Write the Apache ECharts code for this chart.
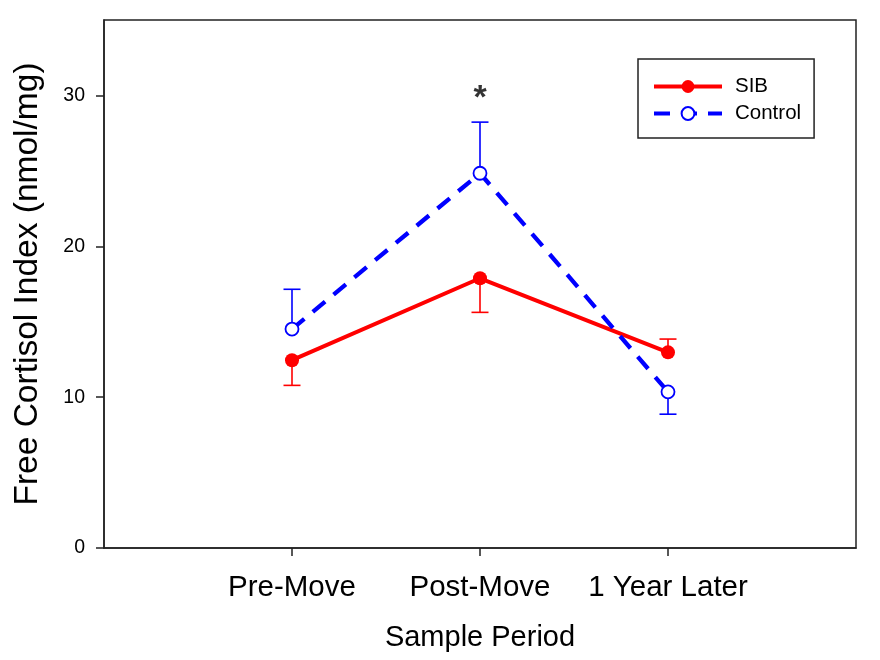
<!DOCTYPE html>
<html>
<head>
<meta charset="utf-8">
<script src="https://cdn.jsdelivr.net/npm/echarts@6/dist/echarts.min.js"></script>
<style>html,body{margin:0;padding:0;background:#fff}#c{width:880px;height:660px}</style>
</head>
<body>
<div id="c"></div>
<script>
const categories = ['Pre-Move', 'Post-Move', '1 Year Later'];
const sibMean = [12.45, 17.88, 12.97];
const sibErrEnd = [10.78, 15.62, 13.85];
const controlMean = [14.51, 24.84, 10.35];
const controlErrEnd = [17.15, 28.23, 8.87];
const yTicks = [0, 10, 20, 30];
const sigMarks = [{ category: 'Post-Move', value: 29.8, text: '*' }];

const FONT = "'Liberation Sans', Arial, sans-serif";
const RED = '#ff0000', BLUE = '#0000ff', AX = '#222';

const xCats = [''].concat(categories, ['']);
const idx = c => categories.indexOf(c) + 1;
const pts = arr => arr.map((v, i) => [i + 1, v]);
const errData = (mean, end) => mean.map((m, i) => [i + 1, m, end[i]]);

function errRender(color) {
  return function (params, api) {
    const x = api.value(0);
    const p0 = api.coord([x, api.value(1)]);
    const p1 = api.coord([x, api.value(2)]);
    const hw = 8.5;
    const st = { stroke: color, lineWidth: 1.6 };
    return {
      type: 'group',
      children: [
        { type: 'line', shape: { x1: p0[0], y1: p0[1], x2: p1[0], y2: p1[1] }, style: st },
        { type: 'line', shape: { x1: p1[0] - hw, y1: p1[1], x2: p1[0] + hw, y2: p1[1] }, style: st }
      ]
    };
  };
}

const chart = echarts.init(document.getElementById('c'), null, { renderer: 'canvas' });
chart.setOption({
  animation: false,
  backgroundColor: '#fff',
  textStyle: { fontFamily: FONT },
  grid: { left: 104, top: 20, right: 24, bottom: 112, show: true, borderColor: AX, borderWidth: 1.5, backgroundColor: 'transparent' },
  legend: {
    data: ['SIB', 'Control'],
    orient: 'vertical',
    left: 638, top: 59,
    padding: [17, 13, 14, 14],
    borderColor: AX, borderWidth: 1.5,
    itemWidth: 68, itemHeight: 16, itemGap: 6,
    lineStyle: { width: 4 },
    textStyle: { fontSize: 20.5, color: '#000', fontFamily: FONT, padding: [0, 0, 0, 8] }
  },
  xAxis: {
    type: 'category',
    data: xCats,
    boundaryGap: false,
    name: 'Sample Period',
    nameLocation: 'middle',
    nameGap: 75,
    nameTextStyle: { fontSize: 29, color: '#000', fontFamily: FONT },
    axisLine: { lineStyle: { color: AX, width: 1.5 } },
    axisTick: { show: true, length: 8, inside: false, interval: (i) => i > 0 && i < xCats.length - 1, lineStyle: { color: AX, width: 1.5 } },
    axisLabel: { interval: (i) => i > 0 && i < xCats.length - 1, fontSize: 29.5, color: '#000', margin: 25, fontFamily: FONT },
    splitLine: { show: false }
  },
  yAxis: {
    type: 'value',
    min: 0, max: 35, interval: 10,
    name: 'Free Cortisol Index (nmol/mg)',
    nameLocation: 'middle',
    nameGap: 59,
    nameTextStyle: { fontSize: 33.5, color: '#000', fontFamily: FONT },
    axisLine: { show: true, lineStyle: { color: AX, width: 1.5 } },
    axisTick: { show: true, length: 8, customValues: yTicks, lineStyle: { color: AX, width: 1.5 } },
    axisLabel: { fontSize: 19.5, color: '#000', margin: 19, fontFamily: FONT, customValues: yTicks,
      formatter: v => (yTicks.indexOf(v) >= 0 ? String(v) : '') },
    splitLine: { show: false }
  },
  series: [
    { type: 'custom', name: 'errSIB', renderItem: errRender(RED), data: errData(sibMean, sibErrEnd), z: 1, silent: true },
    { type: 'custom', name: 'errControl', renderItem: errRender(BLUE), data: errData(controlMean, controlErrEnd), z: 1, silent: true },
    {
      type: 'line', name: 'SIB', data: pts(sibMean), z: 3,
      symbol: 'circle', symbolSize: 14,
      lineStyle: { color: RED, width: 4 },
      itemStyle: { color: RED, borderColor: RED, borderWidth: 0 }
    },
    {
      type: 'line', name: 'Control', data: pts(controlMean), z: 4,
      symbol: 'circle', symbolSize: 13,
      lineStyle: { color: BLUE, width: 4.3, type: [16, 11] },
      itemStyle: { color: '#fff', borderColor: BLUE, borderWidth: 1.8 }
    },
    {
      type: 'scatter', name: 'sig', z: 5, silent: true,
      symbolSize: 0,
      data: sigMarks.map(s => ({ value: [idx(s.category), s.value], label: { show: true, formatter: s.text } })),
      label: { show: true, position: 'inside', fontSize: 34, fontWeight: 'bold', color: '#000', fontFamily: FONT }
    }
  ]
});
</script>
</body>
</html>
